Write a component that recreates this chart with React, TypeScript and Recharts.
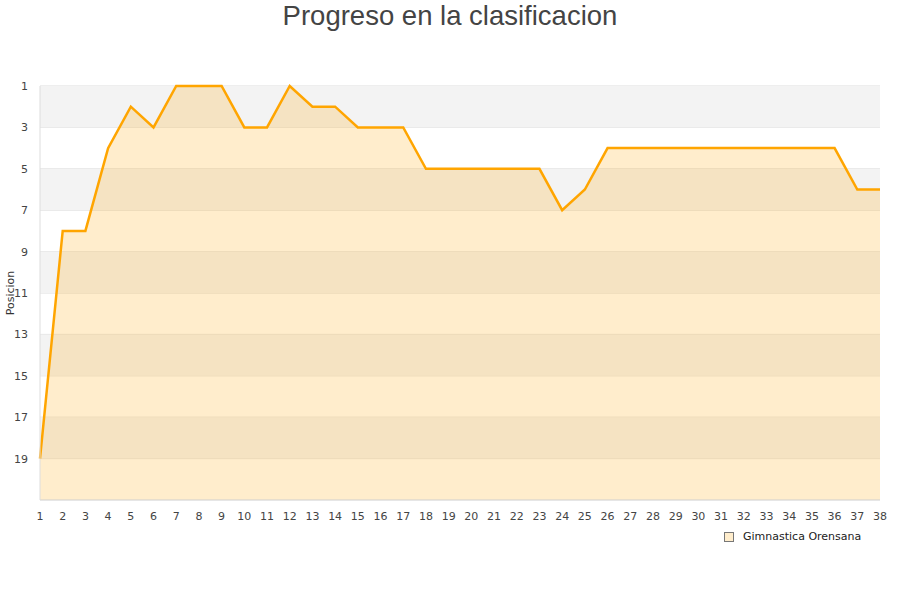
import React from 'react';
import {
  ComposedChart,
  Area,
  XAxis,
  YAxis,
  CartesianGrid,
  ReferenceArea,
} from 'recharts';

const jornadas = [
  1, 2, 3, 4, 5, 6, 7, 8, 9, 10, 11, 12, 13, 14, 15, 16, 17, 18, 19,
  20, 21, 22, 23, 24, 25, 26, 27, 28, 29, 30, 31, 32, 33, 34, 35, 36, 37, 38,
];
const posiciones = [
  19, 8, 8, 4, 2, 3, 1, 1, 1, 3, 3, 1, 2, 2, 3, 3, 3, 5, 5,
  5, 5, 5, 5, 7, 6, 4, 4, 4, 4, 4, 4, 4, 4, 4, 4, 4, 6, 6,
];
const yTicks = [1, 3, 5, 7, 9, 11, 13, 15, 17, 19];
const grayBands = [
  [1, 3],
  [5, 7],
  [9, 11],
  [13, 15],
  [17, 19],
];
const teamName = 'Gimnastica Orensana';

const font = '"DejaVu Sans", sans-serif';

export default function App() {
  const data = jornadas.map((j, i) => ({ jornada: j, pos: posiciones[i] }));

  return (
    <div style={{ position: 'absolute', left: 0, top: 0, width: 900, height: 600, background: '#fff', fontFamily: font }}>
      <div
        style={{
          position: 'absolute',
          top: 0,
          left: 0,
          width: 900,
          textAlign: 'center',
          fontFamily: '"Liberation Sans", Arial, sans-serif',
          fontSize: 27.5,
          color: '#444',
          lineHeight: '32px',
        }}
      >
        Progreso en la clasificacion
      </div>

      <ComposedChart
        width={900}
        height={600}
        data={data}
        margin={{ top: 86, right: 20, bottom: 70, left: 0 }}
      >
        {grayBands.map(([a, b]) => (
          <ReferenceArea
            key={a}
            y1={a}
            y2={b}
            fill="#f3f3f3"
            fillOpacity={1}
            stroke="none"
            ifOverflow="extendDomain"
          />
        ))}
        <CartesianGrid vertical={false} stroke="#dddddd" />
        <XAxis
          dataKey="jornada"
          type="number"
          domain={[1, 38]}
          ticks={jornadas}
          interval={0}
          height={30}
          tickLine={false}
          axisLine={{ stroke: '#dddddd' }}
          tick={{ fontSize: 11, fill: '#444', fontFamily: font }}
          tickMargin={6}
        />
        <YAxis
          reversed
          type="number"
          domain={[1, 21]}
          ticks={yTicks}
          interval={0}
          width={40}
          tickLine={false}
          axisLine={{ stroke: '#dddddd' }}
          tick={{ fontSize: 11, fill: '#444', fontFamily: font }}
          tickMargin={6}
          label={{
            value: 'Posicion',
            angle: -90,
            position: 'insideLeft',
            offset: 10,
            style: { fontSize: 11, fill: '#333', fontFamily: font, textAnchor: 'middle' },
          }}
        />
        <Area
          type="linear"
          dataKey="pos"
          baseValue={21}
          stroke="#ffa500"
          strokeWidth={2.5}
          fill="#ffa500"
          fillOpacity={0.2}
          dot={false}
          activeDot={false}
          isAnimationActive={false}
        />
      </ComposedChart>

      <div
        style={{
          position: 'absolute',
          left: 724,
          top: 530,
          display: 'flex',
          alignItems: 'center',
          fontSize: 11,
          color: '#222',
        }}
      >
        <span
          style={{
            display: 'inline-block',
            width: 8,
            height: 8,
            background: '#ffedcc',
            border: '1px solid #777',
            marginRight: 9,
          }}
        />
        {teamName}
      </div>
    </div>
  );
}
